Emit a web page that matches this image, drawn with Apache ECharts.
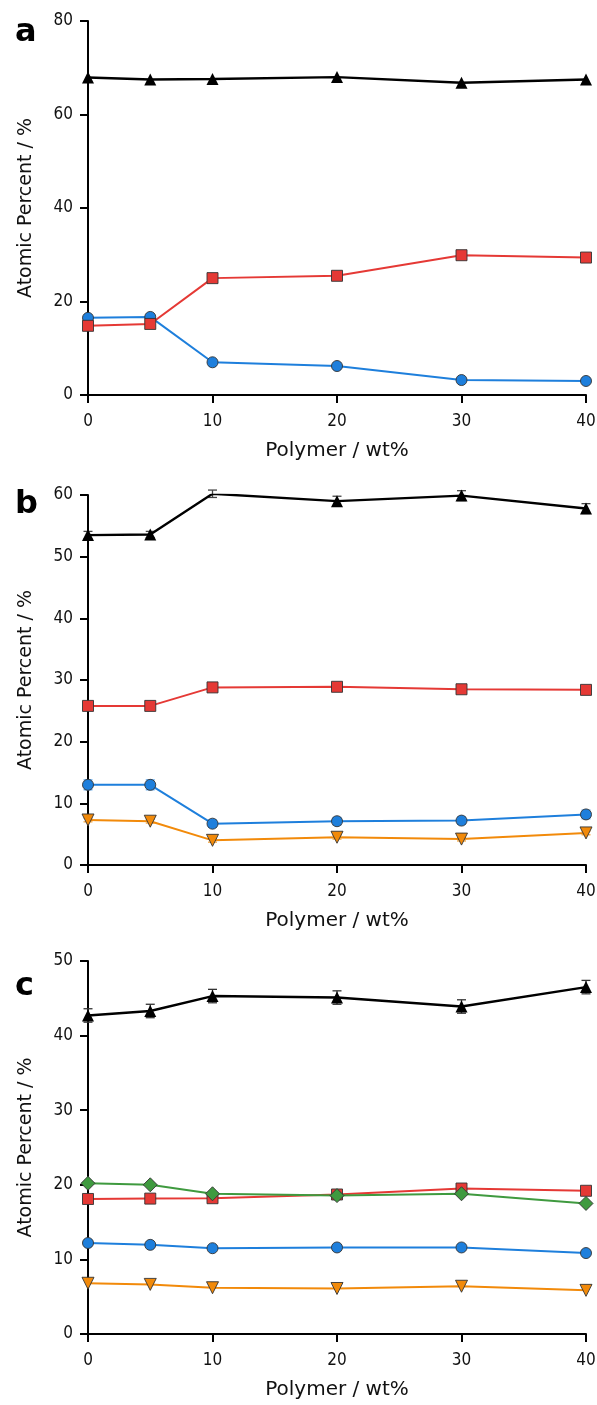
<!DOCTYPE html>
<html>
<head>
<meta charset="utf-8">
<script src="https://cdn.jsdelivr.net/npm/echarts@6/dist/echarts.min.js"></script>
<style>
  html, body { margin: 0; padding: 0; background: #fff; }
  #chart { width: 597px; height: 1405px; }
</style>
</head>
<body>
<div id="chart"></div>
<script>
// x values (Polymer / wt%)
var polymer = [0, 5, 10, 20, 30, 40];
var xTicks = [0, 10, 20, 30, 40];

// panel a
var aBlack = [67.9, 67.5, 67.6, 68.0, 66.8, 67.5];
var aRed = [14.8, 15.2, 25.0, 25.5, 29.9, 29.4];
var aBlue = [16.5, 16.7, 7.0, 6.2, 3.2, 3.0];

// panel b
var bBlack = [53.5, 53.6, 60.2, 59.0, 59.9, 57.8];
var bBlackErr = [0.6, 0.5, 0.6, 0.8, 0.8, 0.8];
var bRed = [25.8, 25.8, 28.8, 28.9, 28.5, 28.4];
var bBlue = [13.0, 13.0, 6.7, 7.1, 7.2, 8.2];
var bBlueErr = [0.8, 0.8, 0.6, 0.6, 0.6, 0.7];
var bOrange = [7.3, 7.1, 4.0, 4.5, 4.2, 5.2];
var bOrangeErr = [0.3, 0.3, 0.3, 0.3, 0.3, 0.3];

// panel c
var cBlack = [42.7, 43.3, 45.3, 45.1, 43.9, 46.5];
var cBlackErr = [0.9, 0.9, 0.9, 0.9, 0.9, 0.9];
var cGreen = [20.2, 20.0, 18.8, 18.55, 18.8, 17.5];
var cRed = [18.1, 18.15, 18.2, 18.7, 19.5, 19.2];
var cBlue = [12.2, 11.95, 11.5, 11.6, 11.6, 10.85];
var cBlueErr = [0.3, 0.3, 0.3, 0.3, 0.3, 0.3];
var cOrange = [6.8, 6.65, 6.2, 6.1, 6.4, 5.85];

var yMax = [80, 60, 50];
var yStep = [20, 10, 10];

var FONT = 'DejaVu Sans';
var TICKFONT = '"DejaVu Sans Condensed", "DejaVu Sans"';
var BLACK = '#000000';
var RED = '#e53935';
var BLUE = '#1e7fdc';
var ORANGE = '#f28a0a';
var GREEN = '#3f9a3f';

function pairs(ys) {
  return polymer.map(function (x, i) { return [x, ys[i]]; });
}
function errPairs(ys, es) {
  return polymer.map(function (x, i) { return [x, ys[i], es[i]]; });
}

function lineSeries(idx, ys, color, symbol, size, rotate, width) {
  return {
    type: 'line',
    xAxisIndex: idx,
    yAxisIndex: idx,
    data: pairs(ys),
    symbol: symbol,
    symbolSize: size,
    symbolRotate: rotate || 0,
    showAllSymbol: true,
    animation: false,
    lineStyle: { color: color, width: width || 2 },
    itemStyle: {
      color: color,
      borderColor: color === BLACK ? BLACK : '#333',
      borderWidth: color === BLACK ? 0 : 0.9,
      opacity: 1
    },
    z: 3
  };
}

function errSeries(idx, ys, es, color) {
  return {
    type: 'custom',
    xAxisIndex: idx,
    yAxisIndex: idx,
    data: errPairs(ys, es),
    encode: { x: 0, y: 1 },
    animation: false,
    silent: true,
    z: 2,
    renderItem: function (params, api) {
      var x = api.value(0), y = api.value(1), e = api.value(2);
      var hi = api.coord([x, y + e]);
      var lo = api.coord([x, y - e]);
      var cap = 4.5;
      var st = { stroke: color, lineWidth: 1.3 };
      return {
        type: 'group',
        children: [
          { type: 'line', shape: { x1: hi[0], y1: hi[1], x2: lo[0], y2: lo[1] }, style: st },
          { type: 'line', shape: { x1: hi[0] - cap, y1: hi[1], x2: hi[0] + cap, y2: hi[1] }, style: st },
          { type: 'line', shape: { x1: lo[0] - cap, y1: lo[1], x2: lo[0] + cap, y2: lo[1] }, style: st }
        ]
      };
    }
  };
}

var tops = [21, 495, 961];
var heights = [374, 370, 373];
var letters = ['a', 'b', 'c'];
var letterTops = [12, 484, 966];

var grids = [], xAxes = [], yAxes = [], titles = [];
for (var i = 0; i < 3; i++) {
  grids.push({ left: 88, right: 11, top: tops[i], height: heights[i], outerBoundsMode: 'none', containLabel: false });
  xAxes.push({
    type: 'value',
    gridIndex: i,
    min: 0,
    max: 40,
    interval: 10,
    name: 'Polymer / wt%',
    nameLocation: 'middle',
    nameGap: 46,
    nameTextStyle: { fontFamily: FONT, fontSize: 20, color: '#111' },
    axisLine: { show: true, onZero: false, lineStyle: { color: '#000', width: 2 } },
    axisTick: { show: true, length: 8, lineStyle: { color: '#000', width: 2 } },
    axisLabel: {
      fontFamily: TICKFONT, fontSize: 17, color: '#111', margin: 18,
      formatter: function (v) { return xTicks.indexOf(v) >= 0 ? String(v) : ''; }
    },
    splitLine: { show: false }
  });
  yAxes.push({
    type: 'value',
    gridIndex: i,
    min: 0,
    max: yMax[i],
    interval: yStep[i],
    name: 'Atomic Percent / %',
    nameLocation: 'middle',
    nameGap: 52,
    nameTextStyle: { fontFamily: FONT, fontSize: 19, color: '#111' },
    axisLine: { show: true, onZero: false, lineStyle: { color: '#000', width: 2 } },
    axisTick: { show: true, length: 8, lineStyle: { color: '#000', width: 2 } },
    axisLabel: { fontFamily: TICKFONT, fontSize: 17, color: '#111', margin: 15 },
    splitLine: { show: false }
  });
  titles.push({
    text: letters[i],
    left: 10,
    top: letterTops[i],
    textStyle: { fontFamily: FONT, fontSize: 32, fontWeight: 'bold', color: '#000' }
  });
}

var series = [
  lineSeries(0, aBlue, BLUE, 'circle', 11),
  lineSeries(0, aRed, RED, 'rect', 11),
  lineSeries(0, aBlack, BLACK, 'triangle', 12, 0, 2.4),

  errSeries(1, bBlack, bBlackErr, '#444'),
  errSeries(1, bBlue, bBlueErr, '#5aa6ee'),
  errSeries(1, bOrange, bOrangeErr, '#f5a640'),
  lineSeries(1, bOrange, ORANGE, 'triangle', 12, 180),
  lineSeries(1, bBlue, BLUE, 'circle', 11),
  lineSeries(1, bRed, RED, 'rect', 11),
  lineSeries(1, bBlack, BLACK, 'triangle', 12, 0, 2.4),

  errSeries(2, cBlack, cBlackErr, '#333'),
  errSeries(2, cBlue, cBlueErr, '#5aa6ee'),
  lineSeries(2, cOrange, ORANGE, 'triangle', 12, 180),
  lineSeries(2, cBlue, BLUE, 'circle', 11),
  lineSeries(2, cRed, RED, 'rect', 11),
  lineSeries(2, cGreen, GREEN, 'diamond', 14),
  lineSeries(2, cBlack, BLACK, 'triangle', 12, 0, 2.4)
];

var myChart = echarts.init(document.getElementById('chart'), null, { renderer: 'canvas' });
myChart.setOption({
  backgroundColor: '#ffffff',
  animation: false,
  title: titles,
  grid: grids,
  xAxis: xAxes,
  yAxis: yAxes,
  series: series
});
</script>
</body>
</html>
